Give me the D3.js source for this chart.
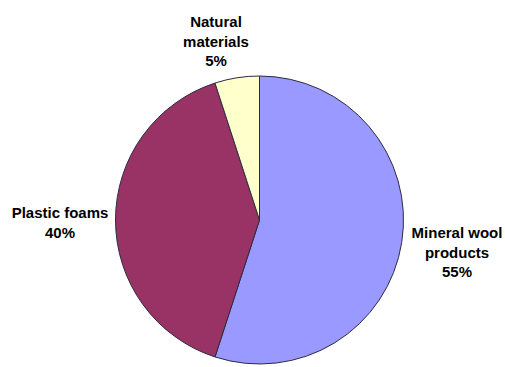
<!DOCTYPE html>
<html>
<head>
<meta charset="utf-8">
<script src="https://cdn.jsdelivr.net/npm/d3@7"></script>
<style>
  html, body { margin: 0; padding: 0; background: #fff; }
  svg { display: block; }
  text { font-family: "Liberation Sans", Arial, sans-serif; font-weight: bold; font-size: 15px; fill: #000; }
</style>
</head>
<body>
<svg id="chart" width="505" height="367"></svg>
<script>
// Insulation materials market share
const categories = ["Mineral wool products", "Plastic foams", "Natural materials"];
const shares = [55, 40, 5];
const colors = ["#9999FF", "#993366", "#FFFFCC"];
// label text lines per slice (last line is the percentage)
const labelLines = [["Mineral wool", "products"], ["Plastic foams"], ["Natural", "materials"]];

const svg = d3.select("#chart");
const cx = 259.5, cy = 220, radius = 144;

const pie = d3.pie().sort(null).value(d => d.value);
const arc = d3.arc().innerRadius(0).outerRadius(radius);

const data = categories.map((c, i) => ({ name: c, value: shares[i], color: colors[i], lines: labelLines[i] }));
const arcs = pie(data);

const g = svg.append("g").attr("transform", `translate(${cx},${cy})`);
g.selectAll("path")
  .data(arcs)
  .join("path")
  .attr("d", arc)
  .attr("fill", d => d.data.color)
  .attr("stroke", "#2b2b40")
  .attr("stroke-width", 1);

// label anchor positions (centre x, first baseline)
const labelPos = [[457, 238], [60, 218], [216, 27]];
const lineH = 19.5;

arcs.forEach((a, i) => {
  const [lx, ly] = labelPos[i];
  const t = svg.append("text").attr("text-anchor", "middle");
  const lines = a.data.lines.concat([a.data.value + "%"]);
  lines.forEach((s, k) => {
    t.append("tspan").attr("x", lx).attr("y", ly + k * lineH).text(s);
  });
});
</script>
</body>
</html>
